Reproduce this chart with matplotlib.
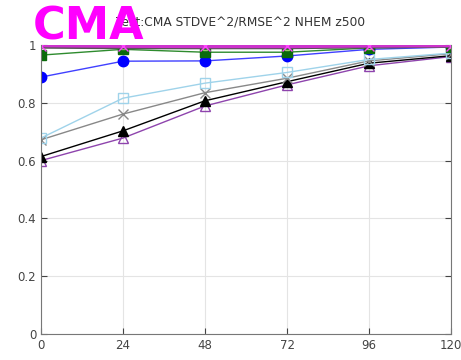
import matplotlib
matplotlib.use("Agg")
import matplotlib.pyplot as plt

hours = [0, 24, 48, 72, 96, 120]

# values
magenta = [0.998, 0.996, 0.995, 0.995, 0.997, 0.998]
darkgray = [0.992, 0.990, 0.990, 0.990, 0.993, 0.995]
lightgreen = [1.0, 0.993, 0.990, 0.990, 0.993, 0.995]
green = [0.965, 0.985, 0.975, 0.975, 0.990, 0.994]
blue = [0.889, 0.944, 0.945, 0.962, 0.985, 0.993]
lightblue = [0.678, 0.816, 0.868, 0.905, 0.950, 0.972]
gray_x = [0.672, 0.761, 0.835, 0.885, 0.945, 0.970]
black = [0.614, 0.703, 0.807, 0.873, 0.937, 0.963]
purple = [0.600, 0.678, 0.789, 0.862, 0.928, 0.960]

fig = plt.figure(figsize=(4.61, 3.6), dpi=100)
ax = fig.add_axes([41 / 461, 1 - 334 / 360, 410 / 461, 289 / 360])

ax.plot(hours, purple, color='#8e44ad', marker='^', mfc='none', mec='#8e44ad', ms=7, lw=1)
ax.plot(hours, black, color='black', marker='^', ms=7, lw=1)
ax.plot(hours, gray_x, color='#888888', marker='x', ms=7, lw=1)
ax.plot(hours, lightblue, color='#9fd3ea', marker='s', mfc='none', mec='#9fd3ea', ms=7, lw=1)
ax.plot(hours, blue, color='#4040ff', marker='o', mfc='blue', mec='blue', ms=7.5, lw=1)
ax.plot(hours, green, color='#2e8b2e', marker='s', mfc='#0a6a0a', mec='#0a6a0a', ms=7, lw=1)
ax.plot(hours, lightgreen, color='#9acd6a', marker='s', mfc='none', ms=3, lw=1)
ax.plot(hours, darkgray, color='#555555', lw=2)
ax.plot(hours, magenta, color='#cc33cc', marker='x', mec='#ff44ff', ms=7, lw=2.5)

ax.set_xlim(0, 120)
ax.set_ylim(0, 1)
ax.set_xticks(hours)
ax.set_yticks([0, 0.2, 0.4, 0.6, 0.8, 1])
ax.set_yticklabels(['0', '0.2', '0.4', '0.6', '0.8', '1'])
ax.grid(True, color='#e4e4e4', lw=0.8)
ax.tick_params(direction='in', labelsize=8.5, colors='#444444', right=True, length=4)
for side in ['left', 'bottom', 'right']:
    ax.spines[side].set_color('#777777')
ax.spines['top'].set_visible(False)

# the big watermark-like label sits over the start of the title
fig.text(0.522, 0.935, 'Test:CMA STDVE^2/RMSE^2 NHEM z500', ha='center', va='center',
         fontsize=8.8, color='#333333', zorder=3)
fig.text(0.072, 0.925, 'CMA', fontsize=32, fontweight='bold', color='#ff00ff',
         ha='left', va='center', zorder=10)

fig.savefig('out.png', dpi=100)
